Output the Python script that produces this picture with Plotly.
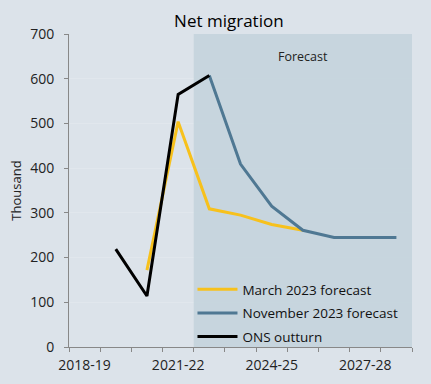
import plotly.graph_objects as go

years = ["2018-19", "2019-20", "2020-21", "2021-22", "2022-23", "2023-24",
         "2024-25", "2025-26", "2026-27", "2027-28", "2028-29"]
march_2023 = [None, None, 172, 504, 309, 295, 274, 261, None, None, None]
nov_2023 = [None, None, None, None, 607, 409, 315, 261, 245, 245, 245]
ons_outturn = [None, 219, 114, 565, 607, None, None, None, None, None, None]
shown_labels = ["2018-19", "2021-22", "2024-25", "2027-28"]
forecast_start = "2022-23"

FONT = "Open Sans"
BG = "#dce3ea"
SHADE = "rgba(197,212,221,0.93)"

fig = go.Figure()
fig.add_trace(go.Scatter(x=years, y=march_2023, mode="lines", name="March 2023 forecast",
                         legendgroup="a", line=dict(color="#f7c11c", width=3)))
fig.add_trace(go.Scatter(x=years, y=nov_2023, mode="lines", name="November 2023 forecast",
                         legendgroup="b", line=dict(color="#4f7893", width=3)))
fig.add_trace(go.Scatter(x=years, y=ons_outturn, mode="lines", name="ONS outturn",
                         legendgroup="c", line=dict(color="#000000", width=3)))

i0 = years.index(forecast_start) - 0.5
fig.add_shape(type="rect", xref="x", yref="y", x0=i0, x1=len(years) - 0.5, y0=0, y1=700,
              fillcolor=SHADE, line=dict(width=0), layer="between")
fig.add_annotation(x=(i0 + len(years) - 0.5) / 2, y=650, xref="x", yref="y", text="Forecast",
                   showarrow=False, font=dict(size=12.5, color="#222", family=FONT))

fig.update_layout(
    width=431, height=384,
    margin=dict(l=69, r=19, t=34, b=37),
    paper_bgcolor=BG, plot_bgcolor=BG,
    font=dict(family=FONT, size=14, color="#222"),
    title=dict(text="Net migration", x=0.531, xanchor="center", y=0.945, yanchor="middle",
               font=dict(size=17, color="#000", family=FONT, weight=500)),
    showlegend=True,
    legend=dict(x=0.36, y=0.233, xanchor="left", yanchor="top", bgcolor="rgba(0,0,0,0)",
                font=dict(size=13.5, color="#111"), itemwidth=40, tracegroupgap=3,
                traceorder="grouped"),
    xaxis=dict(type="category", categoryorder="array", categoryarray=years,
               range=[-0.5, len(years) - 0.5], tickangle=0, automargin=False,
               tickvals=years, ticktext=[y if y in shown_labels else "" for y in years],
               tickson="boundaries", ticks="outside", ticklen=4, tickcolor="#888",
               showline=True, linecolor="#888", linewidth=1, showgrid=False, zeroline=False,
               tickfont=dict(size=14), ticklabelstandoff=5),
    yaxis=dict(range=[0, 700], dtick=100, ticks="outside", ticklen=4, tickcolor="#888",
               showline=True, linecolor="#888", linewidth=1, automargin=False,
               showgrid=True, gridcolor="#e1e7ed", gridwidth=1, zeroline=False,
               tickfont=dict(size=14), ticklabelstandoff=7,
               title=dict(text="Thousand", standoff=5, font=dict(size=13))),
)
fig.write_html("out.html", config={"displayModeBar": False},
               post_script="document.body.style.margin='0';")
